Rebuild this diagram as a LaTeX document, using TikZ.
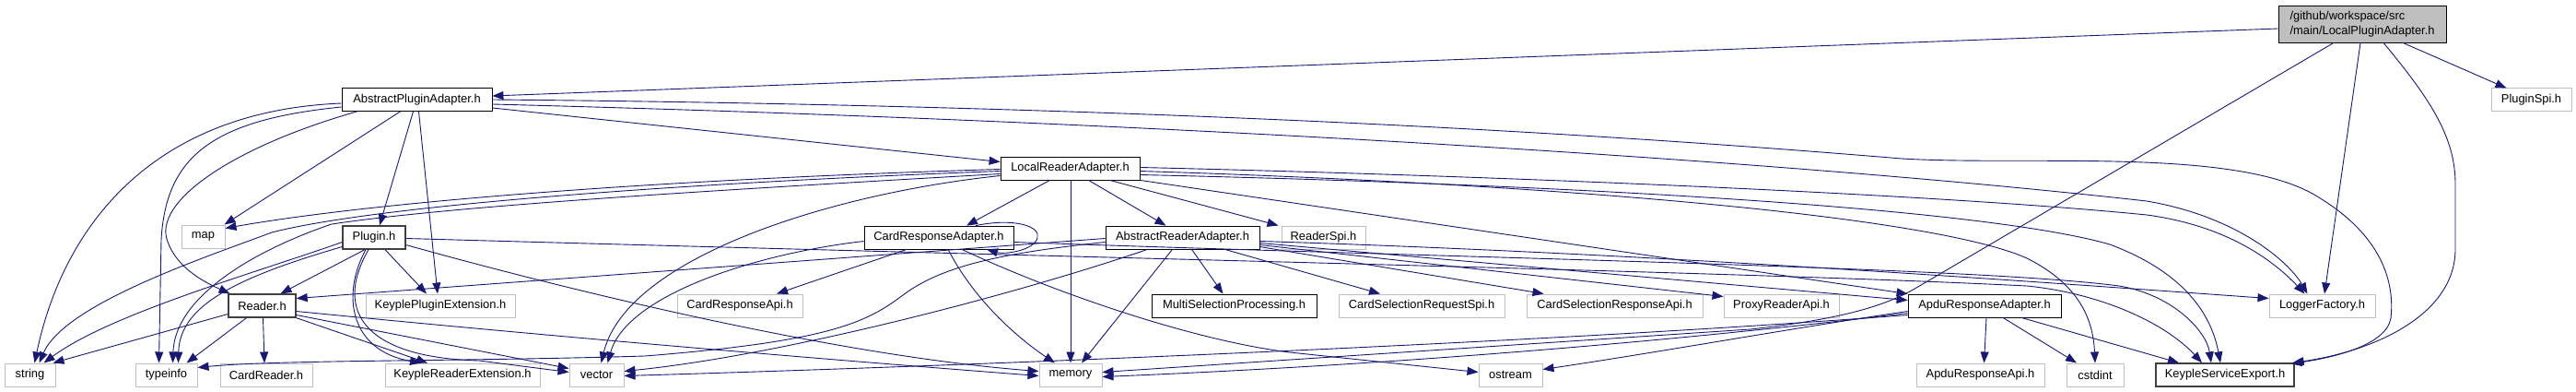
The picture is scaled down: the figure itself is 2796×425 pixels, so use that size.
\documentclass[tikz,border=0pt]{standalone}
\usepackage{fontspec}
\setmainfont{Liberation Sans}
\usetikzlibrary{arrows.meta}
\definecolor{edgec}{HTML}{191970}
\definecolor{gline}{HTML}{BFBFBF}
\definecolor{dline}{HTML}{404040}
\begin{document}
\begin{tikzpicture}[x=1pt,y=-1pt,
 nbox/.style={draw=black, line width=0.8pt, rectangle, minimum height=25pt, inner sep=0pt, font=\fontsize{12.9}{15.5}\selectfont, text=black},
 gbox/.style={nbox, draw=gline, line width=1pt},
 dbox/.style={nbox, draw=dline, line width=1.3pt},
 dep/.style={draw=edgec, line width=0.9pt, -{Triangle[length=12pt,width=9pt]}}]
\fill[white] (0,0) rectangle (2796,425);
\useasboundingbox (0,0) rectangle (2796,425);
% nodes
\node[nbox, fill=gline, minimum width=182pt, minimum height=40pt, align=left] (root) at (2564,26) {/github/workspace/src\\/main/LocalPluginAdapter.h};
\node[gbox, minimum width=87pt] (pluginspi) at (2747.5,108.5) {PluginSpi.h};
\node[nbox, minimum width=163pt] (apa) at (452.5,108) {AbstractPluginAdapter.h};
\node[nbox, minimum width=151pt] (lra) at (1161.5,182.5) {LocalReaderAdapter.h};
\node[gbox, minimum width=47pt] (map) at (220.5,256.5) {map};
\node[dbox, minimum width=68pt] (plugin) at (406,257.5) {Plugin.h};
\node[nbox, minimum width=162pt] (cra) at (1019,257.5) {CardResponseAdapter.h};
\node[nbox, minimum width=167pt] (ara) at (1283.5,257.5) {AbstractReaderAdapter.h};
\node[gbox, minimum width=91pt] (readerspi) at (1436.5,257.5) {ReaderSpi.h};
\node[dbox, minimum width=73pt] (reader) at (284.5,331.5) {Reader.h};
\node[gbox, minimum width=162pt] (kpe) at (478,331.5) {KeyplePluginExtension.h};
\node[gbox, minimum width=136pt] (cardresponseapi) at (803,331.5) {CardResponseApi.h};
\node[nbox, minimum width=179pt] (msp) at (1339.5,331.5) {MultiSelectionProcessing.h};
\node[gbox, minimum width=180pt] (csrspi) at (1543,331.5) {CardSelectionRequestSpi.h};
\node[gbox, minimum width=191pt] (csrapi) at (1752.5,331.5) {CardSelectionResponseApi.h};
\node[gbox, minimum width=125pt] (proxyreaderapi) at (1933.5,331.5) {ProxyReaderApi.h};
\node[nbox, minimum width=166pt] (apdura) at (2154,331.5) {ApduResponseAdapter.h};
\node[gbox, minimum width=115pt] (lf) at (2520.5,331.5) {LoggerFactory.h};
\node[gbox, minimum width=55pt] (string) at (32.5,406.5) {string};
\node[gbox, minimum width=67pt] (typeinfo) at (180.5,406.5) {typeinfo};
\node[gbox, minimum width=100pt] (cardreader) at (289,406.5) {CardReader.h};
\node[gbox, minimum width=168pt] (kre) at (502,406.5) {KeypleReaderExtension.h};
\node[gbox, minimum width=59pt] (vector) at (647.5,406.5) {vector};
\node[gbox, minimum width=68pt] (memory) at (1162,406.5) {memory};
\node[gbox, minimum width=69pt] (ostream) at (1639.5,406.5) {ostream};
\node[gbox, minimum width=139pt] (apduresponseapi) at (2149.5,406.5) {ApduResponseApi.h};
\node[gbox, minimum width=62pt] (cstdint) at (2274,406.5) {cstdint};
\node[dbox, minimum width=150pt] (kse) at (2415,406.5) {KeypleServiceExport.h};
% root edges
\draw[dep] ([yshift=-5pt]root.west) -- ([yshift=4pt]apa.east);
\draw[dep] ([xshift=44pt]root.south) -- ([xshift=-27pt]pluginspi.north);
\draw[dep] ([xshift=-2pt]root.south) -- ([xshift=2.5pt]lf.north);
\draw[dep] ([xshift=23pt]root.south) .. controls (2640,110) and (2665,150) .. (2665,200) -- (2665,270) .. controls (2665,340) and (2580,380) .. ([xshift=-2pt]kse.north east);
\draw[dep] ([xshift=-31pt]root.south) -- (2080,312) .. controls (2040,336) and (1980,348) .. (1900,357) -- ([yshift=3pt]memory.east);
% AbstractPluginAdapter edges
\draw[dep] ([yshift=-4pt]apa.west) .. controls (170,120) and (70,240) .. ([xshift=5pt]string.north);
\draw[dep] ([yshift=-8pt]apa.west) .. controls (230,130) and (180,170) .. (175,260) -- ([xshift=-8pt]typeinfo.north);
\draw[dep] ([xshift=-65pt]apa.south) .. controls (250,160) and (165,220) .. (182,262) .. controls (192,290) and (220,305) .. ([xshift=-35pt]reader.north);
\draw[dep] ([xshift=-18pt]apa.south) -- ([xshift=23pt]map.north);
\draw[dep] ([xshift=-4pt]apa.south) -- ([xshift=6pt]plugin.north);
\draw[dep] ([xshift=2pt]apa.south) -- ([xshift=-3pt]kpe.north);
\draw[dep] ([yshift=-9pt]apa.east) -- ([yshift=7pt]lra.west);
\draw[dep] ([yshift=-5pt]apa.east) .. controls (1200,130) and (1900,170) .. (2330,218) .. controls (2430,235) and (2485,285) .. ([xshift=-16pt]lf.north);
\draw[dep] (apa.east) .. controls (1300,115) and (1800,150) .. (2064,172) .. controls (2200,180) and (2420,160) .. (2510,210) .. controls (2580,250) and (2600,300) .. (2595,345) .. controls (2590,375) and (2530,388) .. ([xshift=-4pt,yshift=-1pt]kse.north east);
% LocalReaderAdapter edges
\draw[dep] ([xshift=-22pt]lra.south) -- ([xshift=30pt]cra.north);
\draw[dep] ([xshift=0.5pt]lra.south) -- (memory.north);
\draw[dep] ([xshift=20pt]lra.south) -- ([xshift=-18pt]ara.north);
\draw[dep] ([xshift=43pt]lra.south) -- ([xshift=-3pt]readerspi.north west);
\draw[dep] ([yshift=-1pt]lra.west) .. controls (700,195) and (400,220) .. ([yshift=9pt]map.east);
\draw[dep] ([yshift=-3pt]lra.west) .. controls (700,200) and (400,225) .. (295,252) .. controls (220,280) and (70,330) .. ([xshift=10pt]string.north);
\draw[dep] ([yshift=-6pt]lra.west) .. controls (800,205) and (500,222) .. (360,243) .. controls (280,270) and (190,320) .. ([xshift=7pt]typeinfo.north);
\draw[dep] ([yshift=-8pt]lra.west) .. controls (900,210) and (680,280) .. ([xshift=5pt]vector.north);
\draw[dep] (lra.south east) -- (apdura.north west);
\draw[dep] ([yshift=1pt]lra.east) .. controls (1600,190) and (2100,210) .. (2330,233) .. controls (2420,245) and (2470,285) .. ([xshift=-19pt]lf.north);
\draw[dep] ([yshift=-3pt]lra.east) .. controls (1700,200) and (2100,235) .. (2200,280) .. controls (2260,310) and (2272,350) .. (cstdint.north);
\draw[dep] ([yshift=-7pt]lra.east) .. controls (1700,200) and (2150,225) .. (2290,265) .. controls (2370,295) and (2400,340) .. ([xshift=-5pt]kse.north);
% Plugin edges
\draw[dep] ([yshift=-5pt]plugin.west) .. controls (280,295) and (120,340) .. ([xshift=15pt]string.north);
\draw[dep] ([yshift=-10pt]plugin.west) .. controls (260,300) and (195,330) .. ([xshift=13pt]typeinfo.north);
\draw[dep] ([xshift=-10pt]plugin.south) -- ([xshift=20pt]reader.north);
\draw[dep] ([xshift=12pt]plugin.south) -- ([xshift=-15pt]kpe.north);
\draw[dep] ([xshift=-9pt]plugin.south) .. controls (370,320) and (380,380) .. ([xshift=-45pt]kre.north);
\draw[dep] ([xshift=-6pt]plugin.south) .. controls (360,340) and (400,388) .. (520,391) -- ([yshift=3pt]vector.west);
\draw[dep] ([yshift=-8pt]plugin.east) .. controls (600,310) and (900,385) .. ([yshift=4pt]memory.west);
\draw[dep] ([yshift=-1pt]plugin.east) .. controls (1200,280) and (1900,295) .. (2200,310) .. controls (2280,318) and (2350,350) .. ([xshift=-25pt]kse.north);
% Reader edges
\draw[dep] ([yshift=-9pt]reader.west) -- ([xshift=-3pt]string.north east);
\draw[dep] ([xshift=-17pt]reader.south) -- ([xshift=22pt]typeinfo.north);
\draw[dep] ([xshift=1pt]reader.south) -- ([xshift=-2pt]cardreader.north);
\draw[dep] (reader.south east) -- ([xshift=-38pt]kre.north);
\draw[dep] ([yshift=-10pt]reader.east) -- ([yshift=7pt]vector.west);
\draw[dep] ([yshift=-6pt]reader.east) .. controls (600,365) and (900,390) .. ([yshift=-1pt]memory.west);
% CardResponseAdapter edges
\draw[dep] ([xshift=40pt]cra.north) .. controls (1100,236) and (1130,245) .. (1126,258) .. controls (1122,272) and (1090,276) .. ([xshift=52pt]cra.south);
\draw[dep] ([xshift=-35pt]cra.south) -- ([xshift=40pt]cardresponseapi.north);
\draw[dep] ([xshift=10pt]cra.south) .. controls (1060,330) and (1110,370) .. ([xshift=-17pt]memory.north);
\draw[dep] ([xshift=25pt]cra.south) .. controls (1150,320) and (1300,370) .. (1400,382) -- ([yshift=3pt]ostream.west);
\draw[dep] ([yshift=-4pt]cra.west) .. controls (820,275) and (680,320) .. ([xshift=12pt]vector.north);
\draw[dep] ([yshift=-5pt]cra.east) .. controls (1600,280) and (2150,290) .. (2300,310) .. controls (2360,320) and (2395,360) .. ([xshift=-15pt]kse.north);
% AbstractReaderAdapter edges
\draw[dep] ([xshift=10pt]ara.south) -- ([xshift=-12pt]msp.north);
\draw[dep] ([xshift=-11pt]ara.south) -- ([xshift=12pt]memory.north);
\draw[dep] ([xshift=46pt]ara.south) -- ([xshift=-45pt]csrspi.north);
\draw[dep] ([xshift=-38pt]ara.south) .. controls (1100,320) and (850,385) .. ([yshift=4pt]vector.east);
\draw[dep] ([yshift=-5pt]ara.west) .. controls (1080,275) and (1020,290) .. (980,320) .. controls (940,350) and (900,370) .. (700,386) .. controls (500,392) and (300,390) .. ([yshift=8pt]typeinfo.east);
\draw[dep] ([yshift=-1pt]ara.west) -- ([yshift=8pt]reader.east);
\draw[dep] ([yshift=-10pt]ara.east) -- ([xshift=-77pt]csrapi.north);
\draw[dep] ([yshift=-8pt]ara.east) -- ([yshift=10pt]proxyreaderapi.west);
\draw[dep] ([yshift=-6pt]ara.east) -- ([yshift=6pt]apdura.west);
\draw[dep] ([yshift=-4pt]ara.east) .. controls (1800,275) and (2200,305) .. ([yshift=8pt]lf.west);
% ApduResponseAdapter edges
\draw[dep] ([xshift=2pt]apdura.south) -- ([xshift=4pt]apduresponseapi.north);
\draw[dep] ([xshift=20pt]apdura.south) -- ([xshift=-20pt]cstdint.north);
\draw[dep] ([xshift=40pt]apdura.south) -- ([xshift=-50pt]kse.north);
\draw[dep] ([yshift=-6pt]apdura.west) .. controls (1950,355) and (1800,382) .. ([yshift=6pt]ostream.east);
\draw[dep] ([yshift=-8pt]apdura.west) .. controls (1800,372) and (1500,396) .. ([yshift=-2pt]memory.east);
\draw[dep] ([yshift=-10pt]apdura.west) .. controls (1700,370) and (1100,395) .. ([yshift=-1pt]vector.east);
\end{tikzpicture}
\end{document}
